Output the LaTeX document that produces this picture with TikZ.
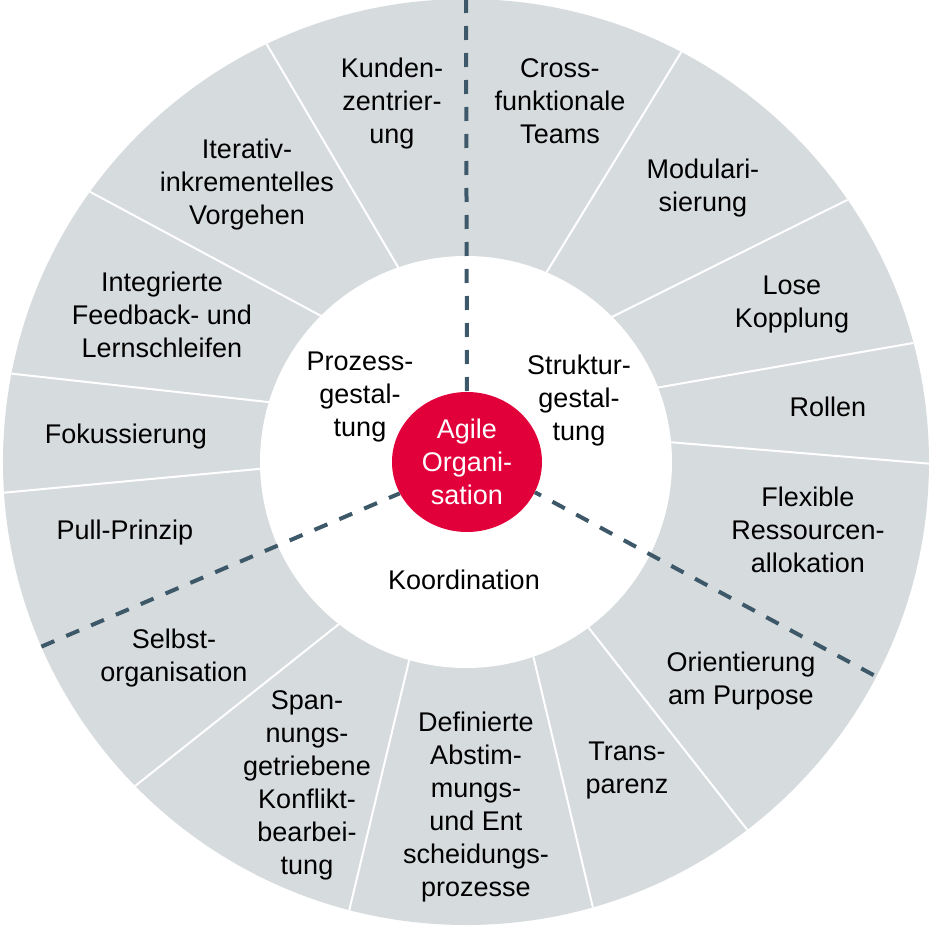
\documentclass[tikz,border=0pt]{standalone}
\usepackage{fontspec}
\setmainfont{Liberation Sans}
\usepackage{tikz}
\usetikzlibrary{shapes.geometric}
\definecolor{ringgrau}{HTML}{D6DBDD}
\definecolor{agilerot}{HTML}{E2003B}
\definecolor{achsblau}{HTML}{3D5868}

\begin{document}
\begin{tikzpicture}[x=1pt, y=1pt,
      font=\fontsize{27}{33}\selectfont,
      feld/.style={align=center, inner sep=0pt},
      trenn/.style={white, line width=2pt},
      achse/.style={achsblau, line width=4pt, dash pattern=on 14pt off 13pt}]
    \useasboundingbox (-466,-468) rectangle (464,462);
    \fill[ringgrau] (0,0) circle (463);
    \foreach \a/\b in {109.2/115.5, 134.8/144.3, 163.1/169.0, 181.9/183.8, 231.9/224.4, 254.0/255.4,
                       289.1/285.9, 306.5/307.4, 67.0/62.3, 44.8/34.5, 21.2/14.9, 5.5/-0.2}
      \draw[trenn] (\a:206) -- (\b:463);
    \fill[white] (0,0) circle (206);
    \node[ellipse, fill=agilerot, text=white, minimum width=150pt, minimum height=140pt, inner sep=0pt, align=center]
      (agile) at (1,0) {Agile\\Organi-\\sation};
    \coordinate (oben) at (90:463);
    \coordinate (rechts) at (-27.6:460);
    \coordinate (links) at (203.5:463);
    \draw[achse] (oben) -- (agile.north);
    \draw[achse] (rechts) -- (agile.-24);
    \draw[achse] (links) -- (agile.205);
    \node[feld] (prozess) at (-106,65) {Prozess-\\gestal-\\tung};
    \node[feld] (struktur) at (113,61) {Struktur-\\gestal-\\tung};
    \node[feld] (koord) at (-2,-118) {Koordination};
    \node[feld] (kunden) at (-74,358) {Kunden-\\zentrier-\\ung};
    \node[feld] (iterativ) at (-219,277) {Iterativ-\\inkrementelles\\Vorgehen};
    \node[feld] (feedback) at (-304,147) {Integrierte\\Feedback- und\\Lernschleifen};
    \node[feld] (fokus) at (-340,25) {Fokussierung};
    \node[feld] (pull) at (-341,-71) {Pull-Prinzip};
    \node[feld] (selbst) at (-292,-196) {Selbst-\\organisation};
    \node[feld] (spannung) at (-159,-323) {Span-\\nungs-\\getriebene\\Konflikt-\\bearbei-\\tung};
    \node[feld] (abstimmung) at (10,-345) {Definierte\\Abstim-\\mungs-\\und Ent\\scheidungs-\\prozesse};
    \node[feld] (transparenz) at (161,-309) {Trans-\\parenz};
    \node[feld] (purpose) at (275,-219) {Orientierung\\am Purpose};
    \node[feld] (ressourcen) at (342,-68) {Flexible\\Ressourcen-\\allokation};
    \node[feld] (rollen) at (362,55) {Rollen};
    \node[feld] (kopplung) at (326,157) {Lose\\Kopplung};
    \node[feld] (modular) at (237,274) {Modulari-\\sierung};
    \node[feld] (teams) at (94,361) {Cross-\\funktionale\\Teams};
  \end{tikzpicture}
\end{document}
